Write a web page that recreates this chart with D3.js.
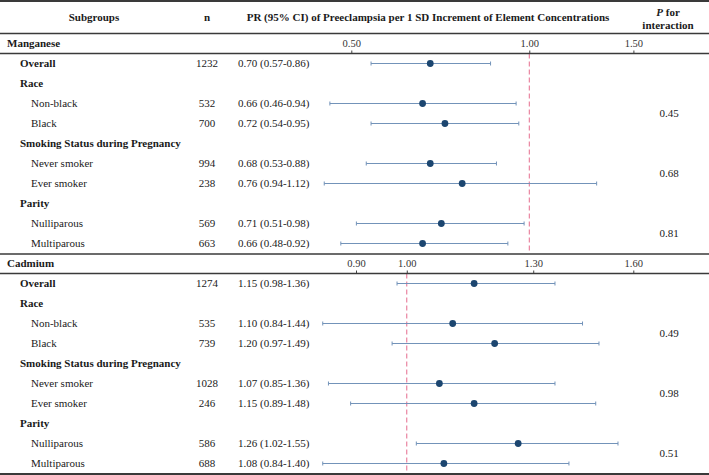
<!DOCTYPE html>
<html>
<head>
<meta charset="utf-8">
<script src="https://cdn.jsdelivr.net/npm/d3@7"></script>
<style>
  body { margin: 0; background: #fff; }
  svg { display: block; font-family: "Liberation Serif", "Times New Roman", serif; }
</style>
</head>
<body>
<div id="chart"></div>
<script>
// rows shared by both elements
var subgroups = ["Overall", "Race", "Non-black", "Black", "Smoking Status during Pregnancy",
                 "Never smoker", "Ever smoker", "Parity", "Nulliparous", "Multiparous"];
var rowKind = ["overall", "group", "item", "item", "group", "item", "item", "group", "item", "item"];

// Manganese
var mnN = [1232, null, 532, 700, null, 994, 238, null, 569, 663];
var mnText = ["0.70 (0.57-0.86)", "", "0.66 (0.46-0.94)", "0.72 (0.54-0.95)", "",
              "0.68 (0.53-0.88)", "0.76 (0.94-1.12)", "", "0.71 (0.51-0.98)", "0.66 (0.48-0.92)"];
var mnEst = [0.68, null, 0.66, 0.72, null, 0.68, 0.77, null, 0.71, 0.66];
var mnLo  = [0.54, null, 0.46, 0.54, null, 0.53, 0.45, null, 0.51, 0.48];
var mnHi  = [0.86, null, 0.95, 0.96, null, 0.88, 1.30, null, 0.98, 0.92];
var mnTicks = [0.5, 1.0, 1.5];
var mnP = ["0.45", "0.68", "0.81"];

// Cadmium
var cdN = [1274, null, 535, 739, null, 1028, 246, null, 586, 688];
var cdText = ["1.15 (0.98-1.36)", "", "1.10 (0.84-1.44)", "1.20 (0.97-1.49)", "",
              "1.07 (0.85-1.36)", "1.15 (0.89-1.48)", "", "1.26 (1.02-1.55)", "1.08 (0.84-1.40)"];
var cdEst = [1.15, null, 1.10, 1.20, null, 1.07, 1.15, null, 1.26, 1.08];
var cdLo  = [0.98, null, 0.84, 0.97, null, 0.85, 0.89, null, 1.02, 0.84];
var cdHi  = [1.36, null, 1.44, 1.49, null, 1.36, 1.48, null, 1.55, 1.40];
var cdTicks = [0.9, 1.0, 1.3, 1.6];
var cdP = ["0.49", "0.98", "0.51"];

// p for interaction sits between the two rows of each group
var pRows = [[2, 3], [5, 6], [8, 9]];

var width = 709, height = 475;
var textColor = "#1a1a1a";

var svg = d3.select("#chart").append("svg")
    .attr("width", width)
    .attr("height", height);

// column headers
var head = svg.append("g")
    .attr("font-weight", "bold")
    .attr("font-size", 11)
    .attr("fill", textColor)
    .attr("text-anchor", "middle");
head.append("text").attr("x", 94).attr("y", 17).attr("dy", "0.35em").text("Subgroups");
head.append("text").attr("x", 207).attr("y", 17).attr("dy", "0.35em").text("n");
head.append("text").attr("x", 428).attr("y", 17).attr("dy", "0.35em")
    .text("PR (95% CI) of Preeclampsia per 1 SD Increment of Element Concentrations");
var pHead = head.append("text").attr("x", 668).attr("y", 12).attr("dy", "0.35em");
pHead.append("tspan").attr("font-style", "italic").text("P");
pHead.append("tspan").text(" for");
head.append("text").attr("x", 668).attr("y", 25).attr("dy", "0.35em").text("interaction");

function drawPanel(opt) {
    var x = d3.scaleLog().domain(opt.domain).range(opt.range);
    var y = d3.scaleBand().domain(d3.range(subgroups.length)).range([opt.axisY, opt.axisY + 200]);
    var g = svg.append("g");

    // element name
    g.append("text")
        .attr("x", 7).attr("y", opt.axisY - 10).attr("dy", "0.35em")
        .attr("font-size", 11).attr("font-weight", "bold").attr("fill", textColor)
        .text(opt.name);

    // axis on the header row
    var axis = g.append("g")
        .attr("transform", "translate(0," + opt.axisY + ")")
        .call(d3.axisTop(x).tickValues(opt.ticks).tickFormat(d3.format(".2f")).tickSize(3).tickPadding(4));
    axis.select(".domain").remove();
    axis.selectAll(".tick line").attr("stroke", "#444");
    axis.selectAll(".tick text")
        .attr("font-family", "Liberation Serif, serif")
        .attr("font-size", 10.5)
        .attr("fill", "#333");

    // reference line at 1
    g.append("line")
        .attr("x1", x(1)).attr("x2", x(1))
        .attr("y1", opt.axisY).attr("y2", opt.axisY + 200)
        .attr("stroke", "#e56b8d")
        .attr("stroke-width", 1)
        .attr("stroke-dasharray", "5,3");

    var rows = subgroups.map(function (s, i) {
        return { label: s, kind: rowKind[i], n: opt.n[i], text: opt.text[i],
                 est: opt.est[i], lo: opt.lo[i], hi: opt.hi[i], i: i };
    });

    var yc = function (d) { return y(d.i) + y.bandwidth() / 2; };

    g.selectAll(".lab").data(rows).enter().append("text")
        .attr("x", function (d) { return d.kind === "item" ? 31 : 20; })
        .attr("y", yc).attr("dy", "0.35em")
        .attr("font-size", 11)
        .attr("font-weight", function (d) { return d.kind === "item" ? "normal" : "bold"; })
        .attr("fill", textColor)
        .text(function (d) { return d.label; });

    var est = rows.filter(function (d) { return d.est != null; });

    g.selectAll(".n").data(est).enter().append("text")
        .attr("x", 207).attr("y", yc).attr("dy", "0.35em")
        .attr("text-anchor", "middle").attr("font-size", 11).attr("fill", textColor)
        .text(function (d) { return d.n; });

    g.selectAll(".ci").data(est).enter().append("text")
        .attr("x", 238).attr("y", yc).attr("dy", "0.35em")
        .attr("font-size", 11).attr("fill", textColor)
        .text(function (d) { return d.text; });

    var bars = g.selectAll(".bar").data(est).enter().append("g")
        .attr("stroke", "#7393b9").attr("stroke-width", 1);
    bars.append("line")
        .attr("x1", function (d) { return x(d.lo); })
        .attr("x2", function (d) { return x(d.hi); })
        .attr("y1", yc).attr("y2", yc);
    bars.append("line")
        .attr("x1", function (d) { return x(d.lo); })
        .attr("x2", function (d) { return x(d.lo); })
        .attr("y1", function (d) { return yc(d) - 2; })
        .attr("y2", function (d) { return yc(d) + 2; });
    bars.append("line")
        .attr("x1", function (d) { return x(d.hi); })
        .attr("x2", function (d) { return x(d.hi); })
        .attr("y1", function (d) { return yc(d) - 2; })
        .attr("y2", function (d) { return yc(d) + 2; });

    g.selectAll(".pt").data(est).enter().append("circle")
        .attr("cx", function (d) { return x(d.est); })
        .attr("cy", yc)
        .attr("r", 3.4)
        .attr("fill", "#1c4670");

    g.selectAll(".p").data(opt.p).enter().append("text")
        .attr("x", 669)
        .attr("y", function (d, i) {
            return (yc(rows[pRows[i][0]]) + yc(rows[pRows[i][1]])) / 2;
        })
        .attr("dy", "0.35em")
        .attr("text-anchor", "middle").attr("font-size", 11).attr("fill", textColor)
        .text(function (d) { return d; });
}

drawPanel({ name: "Manganese", axisY: 53.5, domain: [0.5, 1.5], range: [351.3, 633.4],
            ticks: mnTicks, n: mnN, text: mnText, est: mnEst, lo: mnLo, hi: mnHi, p: mnP });
drawPanel({ name: "Cadmium", axisY: 273.5, domain: [0.9, 1.6], range: [356, 633.3],
            ticks: cdTicks, n: cdN, text: cdText, est: cdEst, lo: cdLo, hi: cdHi, p: cdP });

// table rules
var rules = [{ y: 1, w: 2 }, { y: 33.5, w: 1.5 }, { y: 53.5, w: 1.5 },
             { y: 254, w: 1.5 }, { y: 273.5, w: 1.5 }, { y: 474, w: 2 }];
svg.selectAll(".rule").data(rules).enter().append("line")
    .attr("x1", 0).attr("x2", width)
    .attr("y1", function (d) { return d.y; })
    .attr("y2", function (d) { return d.y; })
    .attr("stroke", "#3a3a3a")
    .attr("stroke-width", function (d) { return d.w; });
</script>
</body>
</html>
